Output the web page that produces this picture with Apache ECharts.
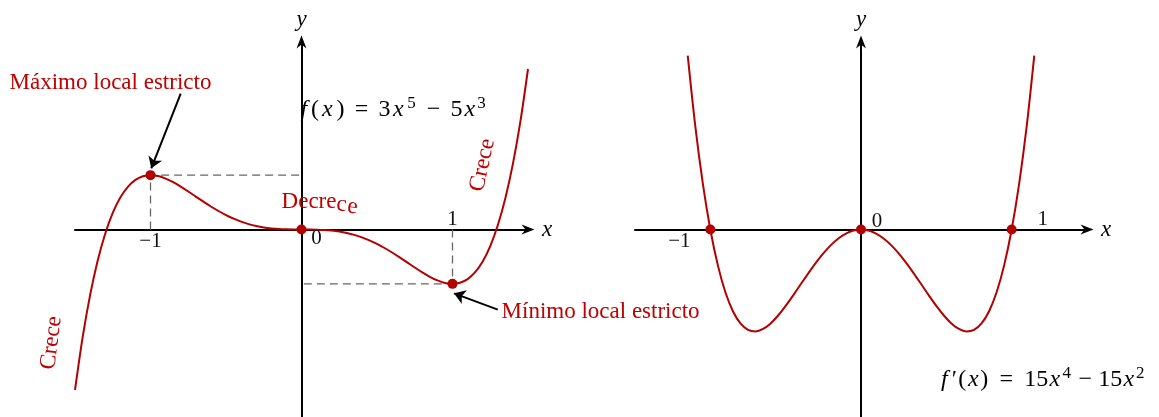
<!DOCTYPE html>
<html>
<head>
<meta charset="utf-8">
<script src="https://cdn.jsdelivr.net/npm/echarts@6/dist/echarts.min.js"></script>
<style>
  html, body { margin: 0; padding: 0; background: #fff; }
  #main { width: 1159px; height: 417px; }
</style>
</head>
<body>
<div id="main"></div>
<script>
// f(x) = 3x^5 - 5x^3 sampled on [-1.5, 1.5]
const fX = [-1.5, -1.45, -1.4, -1.35, -1.3, -1.25, -1.2, -1.15, -1.1, -1.05,
  -1, -0.95, -0.9, -0.85, -0.8, -0.75, -0.7, -0.65, -0.6, -0.55,
  -0.5, -0.45, -0.4, -0.35, -0.3, -0.25, -0.2, -0.15, -0.1, -0.05,
  0, 0.05, 0.1, 0.15, 0.2, 0.25, 0.3, 0.35, 0.4, 0.45,
  0.5, 0.55, 0.6, 0.65, 0.7, 0.75, 0.8, 0.85, 0.9, 0.95,
  1, 1.05, 1.1, 1.15, 1.2, 1.25, 1.3, 1.35, 1.4, 1.45, 1.5];
const fY = [-5.906, -3.986, -2.415, -1.150, -0.154, 0.610, 1.175, 1.570, 1.824, 1.959,
  2, 1.966, 1.874, 1.740, 1.577, 1.398, 1.211, 1.025, 0.847, 0.681,
  0.531, 0.400, 0.289, 0.199, 0.128, 0.075, 0.039, 0.017, 0.005, 0.001,
  0, -0.001, -0.005, -0.017, -0.039, -0.075, -0.128, -0.199, -0.289, -0.400,
  -0.531, -0.681, -0.847, -1.025, -1.211, -1.398, -1.577, -1.740, -1.874, -1.966,
  -2, -1.959, -1.824, -1.570, -1.175, -0.610, 0.154, 1.150, 2.415, 3.986, 5.906];

// f'(x) = 15x^4 - 15x^2 sampled on [-1.15, 1.15]
const dX = [-1.15, -1.1, -1.05, -1, -0.95, -0.9, -0.85, -0.8, -0.75, -0.7,
  -0.65, -0.6, -0.55, -0.5, -0.45, -0.4, -0.35, -0.3, -0.25, -0.2,
  -0.15, -0.1, -0.05, 0, 0.05, 0.1, 0.15, 0.2, 0.25, 0.3,
  0.35, 0.4, 0.45, 0.5, 0.55, 0.6, 0.65, 0.7, 0.75, 0.8,
  0.85, 0.9, 0.95, 1, 1.05, 1.1, 1.15];
const dY = [6.398, 3.812, 1.695, 0, -1.320, -2.309, -3.007, -3.456, -3.691, -3.749,
  -3.660, -3.456, -3.165, -2.813, -2.422, -2.016, -1.612, -1.229, -0.879, -0.576,
  -0.330, -0.149, -0.037, 0, -0.037, -0.149, -0.330, -0.576, -0.879, -1.229,
  -1.612, -2.016, -2.422, -2.813, -3.165, -3.456, -3.660, -3.749, -3.691, -3.456,
  -3.007, -2.309, -1.320, 0, 1.695, 3.812, 6.398];

// critical points of f and zeros of f'
const maxPt = [-1, 2];
const originPt = [0, 0];
const minPt = [1, -2];
const rootsX = [-1, 0, 1];

// tick labels on the x axes
const tickValues = [-1, 0, 1];
const tickLabels = ['\u22121', '0', '1'];

const RED = '#b30000';
const TXT_RED = '#bf0000';
const SERIF = "'Liberation Serif', 'DejaVu Serif', serif";
const ARROW = 'path://M5,0 L10,13 L5,9 L0,13 Z';

const zip = (a, b) => a.map((v, i) => [v, b[i]]);

function axisX(gi) {
  return {
    type: 'value', gridIndex: gi, min: -1.5, max: 1.5,
    axisLine: { onZero: true, symbol: ['none', ARROW], symbolSize: [10, 14],
      lineStyle: { color: '#000', width: 2 } },
    axisTick: { show: false }, axisLabel: { show: false }, splitLine: { show: false },
    name: 'x', nameLocation: 'end', nameGap: 14,
    nameTextStyle: { fontFamily: SERIF, fontStyle: 'italic', fontSize: 23, color: '#000' }
  };
}
function axisY(gi) {
  return {
    type: 'value', gridIndex: gi, min: -6.9, max: 6.9,
    axisLine: { onZero: true, symbol: ['none', ARROW], symbolSize: [10, 14],
      lineStyle: { color: '#000', width: 2 } },
    axisTick: { show: false }, axisLabel: { show: false }, splitLine: { show: false },
    name: 'y', nameLocation: 'end', nameGap: 11,
    nameTextStyle: { fontFamily: SERIF, fontStyle: 'italic', fontSize: 23, color: '#000' }
  };
}

function tickSeries(gi, offsets) {
  return {
    type: 'scatter', xAxisIndex: gi, yAxisIndex: gi, symbolSize: 0, z: 5,
    itemStyle: { opacity: 1 }, silent: true,
    data: tickValues.map((v, i) => ({
      value: [v, 0],
      label: { show: true, position: 'inside', formatter: tickLabels[i], offset: offsets[i],
        fontFamily: SERIF, fontSize: 21, color: '#111', opacity: 1 }
    }))
  };
}

const guideStyle = { color: '#666', width: 1.3, type: [8, 5] };
const dotStyle = { color: RED, opacity: 1 };

const chart = echarts.init(document.getElementById('main'), null, { renderer: 'canvas' });
chart.setOption({
  animation: false,
  grid: [
    { left: 75, top: 42, width: 453, height: 376 },
    { left: 635, top: 42, width: 452, height: 376 }
  ],
  xAxis: [axisX(0), axisX(1)],
  yAxis: [axisY(0), axisY(1)],
  series: [
    { type: 'line', xAxisIndex: 0, yAxisIndex: 0, data: [[maxPt[0], 0], maxPt, [0, maxPt[1]]],
      showSymbol: false, lineStyle: guideStyle, z: 1, silent: true },
    { type: 'line', xAxisIndex: 0, yAxisIndex: 0, data: [[minPt[0], 0], minPt, [0, minPt[1]]],
      showSymbol: false, lineStyle: guideStyle, z: 1, silent: true },
    { type: 'line', xAxisIndex: 0, yAxisIndex: 0, data: zip(fX, fY), smooth: 0.3,
      showSymbol: false, lineStyle: { color: RED, width: 2 }, z: 3 },
    { type: 'scatter', xAxisIndex: 0, yAxisIndex: 0, data: [maxPt, originPt, minPt],
      symbolSize: 10, itemStyle: dotStyle, z: 4 },
    { type: 'lines', coordinateSystem: 'cartesian2d', xAxisIndex: 0, yAxisIndex: 0,
      symbol: ['none', 'arrow'], symbolSize: 11, z: 4, silent: true,
      lineStyle: { color: '#000', width: 2, opacity: 1 },
      data: [
        { coords: [[-0.8, 5.0], [-0.995, 2.25]] },
        { coords: [[1.3, -2.95], [1.01, -2.35]] }
      ] },
    tickSeries(0, [[0, 12], [15, 9], [0, -10]]),

    { type: 'line', xAxisIndex: 1, yAxisIndex: 1, data: zip(dX, dY), smooth: 0.3,
      showSymbol: false, lineStyle: { color: RED, width: 2 }, z: 3 },
    { type: 'scatter', xAxisIndex: 1, yAxisIndex: 1, data: rootsX.map(v => [v, 0]),
      symbolSize: 10, itemStyle: dotStyle, z: 4 },
    tickSeries(1, [[-31, 12], [16, -8], [31, -10]])
  ]
});

// annotation texts anchored in data space
const px = (gi, p) => chart.convertToPixel({ gridIndex: gi }, p);
const redText = (p, text, extra) => Object.assign({
  type: 'text', x: p[0], y: p[1], z: 10,
  style: Object.assign({ text, fill: TXT_RED, fontFamily: SERIF, fontSize: 23,
    textAlign: 'left', textVerticalAlign: 'middle' }, extra && extra.style)
}, extra && extra.el);

// math typesetting: each glyph sits in a box of fixed width
const mathStyle = (italic, w, sup) => ({
  fontFamily: SERIF, fontStyle: italic ? 'italic' : 'normal',
  fontSize: sup ? 17 : 24, lineHeight: sup ? 17 : 30,
  verticalAlign: sup ? 'top' : 'middle', width: w, align: sup ? 'left' : 'center', color: '#000'
});
function mathText(tokens) {
  const rich = {};
  let text = '';
  tokens.forEach((t, i) => {
    rich['t' + i] = mathStyle(t[1] === 'i', t[2], t[1] === 's');
    text += '{t' + i + '|' + t[0] + '}';
  });
  return { text, rich };
}
const fMath = mathText([
  ['f', 'i', 13], ['(', 'n', 9], ['x', 'i', 16], [')', 'n', 10], ['=', 'n', 32],
  ['3', 'n', 14], ['x', 'i', 14], ['5', 's', 12], ['\u2212', 'n', 32],
  ['5', 'n', 14], ['x', 'i', 13], ['3', 's', 10]
]);
const dMath = mathText([
  ['f', 'i', 13], ['\u2032', 'n', 7], ['(', 'n', 9], ['x', 'i', 13], [')', 'n', 9], ['=', 'n', 35],
  ['15', 'n', 25], ['x', 'i', 12], ['4', 's', 12], ['\u2212', 'n', 25],
  ['15', 'n', 25], ['x', 'i', 12], ['2', 's', 11]
]);

const pMax = px(0, [-1.265, 5.38]);
const pMin = px(0, [1.325, -3.03]);
const pDec = px(0, [-0.132, 1.0]);
const pCrL = px(0, [-1.656, -4.17]);
const pCrR = px(0, [1.199, 2.37]);
const pF = px(0, [-0.027, 4.41]);
const pD = px(1, [0.51, -5.54]);

chart.setOption({
  graphic: [
    redText(pMax, 'Máximo local estricto', { style: { textAlign: 'center' } }),
    redText(pMin, 'Mínimo local estricto'),
    redText([pDec[0], pDec[1]], 'Decre'),
    redText([pDec[0] + 55, pDec[1] + 2], 'c', { el: { rotation: -0.08 } }),
    redText([pDec[0] + 66, pDec[1] + 4], 'e', { el: { rotation: -0.12 } }),
    redText(pCrL, 'Crece', { style: { textAlign: 'center' }, el: { rotation: 1.44 } }),
    redText(pCrR, 'Crece', { style: { textAlign: 'center' }, el: { rotation: 1.36 } }),
    { type: 'text', x: pF[0], y: pF[1], z: 10,
      style: Object.assign({ textAlign: 'left', textVerticalAlign: 'middle' }, fMath) },
    { type: 'text', x: pD[0], y: pD[1], z: 10,
      style: Object.assign({ textAlign: 'left', textVerticalAlign: 'middle' }, dMath) }
  ]
});
</script>
</body>
</html>
